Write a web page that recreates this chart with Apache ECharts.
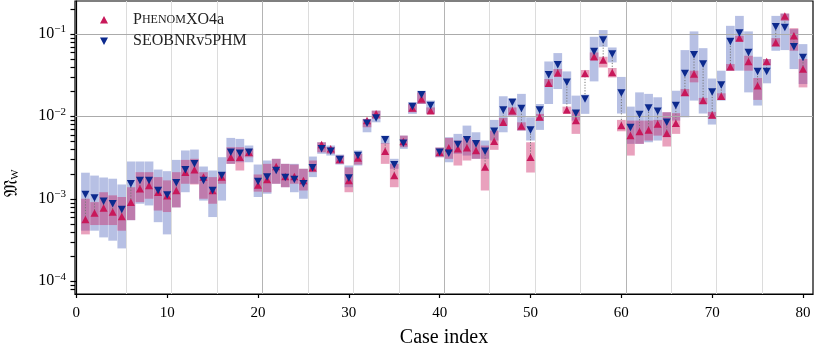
<!DOCTYPE html>
<html>
<head>
<meta charset="utf-8">
<script src="https://cdn.jsdelivr.net/npm/echarts@6/dist/echarts.min.js"></script>
<style>html,body{margin:0;padding:0;background:#fff;}#c{width:815px;height:347px;}</style>
</head>
<body>
<div id="c"></div>
<script>
const cases = [1,2,3,4,5,6,7,8,9,10,11,12,13,14,15,16,17,18,19,20,21,22,23,24,25,26,27,28,29,30,31,32,33,34,35,36,37,38,39,40,41,42,43,44,45,46,47,48,49,50,51,52,53,54,55,56,57,58,59,60,61,62,63,64,65,66,67,68,69,70,71,72,73,74,75,76,77,78,79,80];
const phenomVal = [5.6e-4,6.7e-4,7.7e-4,6.9e-4,6.1e-4,9.1e-4,1.32e-3,1.45e-3,1.2e-3,1.09e-3,1.26e-3,2.1e-3,2.24e-3,1.83e-3,1.26e-3,1.83e-3,3.19e-3,3.19e-3,3.66e-3,1.47e-3,1.71e-3,2.46e-3,1.86e-3,1.86e-3,1.67e-3,2.37e-3,4.54e-3,4.03e-3,2.99e-3,1.67e-3,3.13e-3,8.87e-3,1.07e-2,3.77e-3,1.91e-3,4.94e-3,1.26e-2,1.62e-2,1.17e-2,3.66e-3,4.14e-3,4.03e-3,4.14e-3,3.85e-3,2.42e-3,4.98e-3,8.45e-3,1.17e-2,7.6e-3,3.19e-3,9.8e-3,2.51e-2,3.35e-2,1.19e-2,8.87e-3,3.31e-2,5.27e-2,4.81e-2,3.4e-2,7.71e-3,5.83e-3,6.53e-3,6.84e-3,8.09e-3,6.22e-3,8.22e-3,1.95e-2,3.26e-2,1.55e-2,1.04e-2,1.75e-2,3.99e-2,8.87e-2,4.62e-2,2.35e-2,4.62e-2,7.85e-2,0.165,9.46e-2,3.74e-2];
const seobVal = [1.13e-3,1.02e-3,9.3e-4,8.7e-4,7.4e-4,1.52e-3,1.67e-3,1.67e-3,1.26e-3,1.11e-3,1.56e-3,2.24e-3,2.65e-3,1.67e-3,1.26e-3,1.91e-3,3.66e-3,3.56e-3,3.66e-3,1.62e-3,1.83e-3,2.2e-3,1.81e-3,1.71e-3,1.52e-3,2.37e-3,4.03e-3,3.77e-3,2.99e-3,1.78e-3,3.34e-3,8.22e-3,9.55e-3,5.18e-3,2.58e-3,4.71e-3,1.31e-2,1.83e-2,1.35e-2,3.66e-3,3.56e-3,4.54e-3,5.18e-3,4.63e-3,3.77e-3,6.58e-3,1.19e-2,1.48e-2,1.24e-2,6.84e-3,1.19e-2,3.19e-2,4.22e-2,2.58e-2,1.09e-2,1.62e-2,6.11e-2,8.4e-2,5.68e-2,1.92e-2,7.3e-3,1.05e-2,1.26e-2,1.15e-2,8.45e-3,1.35e-2,3.31e-2,5.57e-2,4.3e-2,1.97e-2,2.4e-2,8.07e-2,0.102,5.94e-2,3.5e-2,3.5e-2,0.1216,0.119,6.96e-2,5.17e-2];
const seobHi = [2.07e-3,1.91e-3,1.81e-3,1.75e-3,1.49e-3,2.83e-3,2.83e-3,2.83e-3,2.26e-3,2.16e-3,2.96e-3,3.85e-3,3.95e-3,2.46e-3,2.2e-3,3.19e-3,5.47e-3,5.32e-3,4.42e-3,2.6e-3,2.91e-3,3.05e-3,2.65e-3,2.65e-3,2.31e-3,3.25e-3,4.84e-3,4.42e-3,3.43e-3,2.53e-3,3.85e-3,9.29e-3,1.17e-2,5.83e-3,3.05e-3,5.83e-3,1.48e-2,2.04e-2,1.55e-2,4.18e-3,5.57e-3,6.12e-3,7.71e-3,6.4e-3,5.08e-3,9.04e-3,1.75e-2,1.62e-2,1.87e-2,9.72e-3,1.41e-2,4.62e-2,5.84e-2,3.5e-2,1.78e-2,1.83e-2,9.2e-2,0.111,6.83e-2,3.0e-2,1.31e-2,1.95e-2,1.87e-2,1.7e-2,1.12e-2,2.04e-2,6.35e-2,0.107,6.7e-2,2.87e-2,3.57e-2,0.125,0.165,0.107,5.27e-2,4.94e-2,0.165,0.176,0.114,7.5e-2];
const seobLo = [4.1e-4,4.1e-4,3.4e-4,3.1e-4,2.5e-4,5.5e-4,8.7e-4,8.3e-4,5.2e-4,3.7e-4,7.85e-4,1.2e-3,1.52e-3,9.5e-4,6.0e-4,9.5e-4,2.65e-3,2.77e-3,2.77e-3,1.05e-3,1.15e-3,1.52e-3,1.38e-3,1.2e-3,1.0e-3,1.83e-3,3.51e-3,3.34e-3,2.6e-3,1.38e-3,2.53e-3,6.4e-3,8.45e-3,4.63e-3,2.31e-3,4.03e-3,1.07e-2,1.41e-2,1.07e-2,3.19e-3,2.77e-3,3.51e-3,3.34e-3,3.05e-3,3.05e-3,5.08e-3,6.4e-3,1.02e-2,6.71e-3,5.08e-3,6.84e-3,1.41e-2,2.14e-2,1.41e-2,8.87e-3,1.07e-2,2.65e-2,6.96e-2,4.5e-2,1.08e-2,4.63e-3,4.63e-3,4.84e-3,5.08e-3,5.57e-3,8.87e-3,9.72e-3,1.55e-2,1.08e-2,7.94e-3,1.55e-2,3.57e-2,3.57e-2,1.95e-2,1.35e-2,2.51e-2,6.23e-2,6.35e-2,3.74e-2,2.46e-2];
const phenomHi = [1.0e-3,9.1e-4,1.2e-3,1.1e-3,1.05e-3,1.38e-3,2.1e-3,2.1e-3,1.83e-3,1.67e-3,2.1e-3,2.96e-3,3.05e-3,2.1e-3,1.83e-3,2.1e-3,4.22e-3,4.22e-3,4.03e-3,1.97e-3,2.65e-3,3.05e-3,2.65e-3,2.6e-3,2.31e-3,2.91e-3,4.84e-3,4.22e-3,3.34e-3,2.4e-3,3.51e-3,9.29e-3,1.17e-2,4.71e-3,2.65e-3,5.83e-3,1.41e-2,1.95e-2,1.28e-2,4.18e-3,5.47e-3,5.08e-3,5.57e-3,5.08e-3,4.42e-3,6.71e-3,9.55e-3,1.28e-2,8.45e-3,4.84e-3,1.07e-2,2.83e-2,3.74e-2,1.31e-2,1.19e-2,3.64e-2,5.94e-2,5.27e-2,3.85e-2,9.04e-3,8.87e-3,8.87e-3,8.87e-3,9.04e-3,1.12e-2,1.09e-2,2.14e-2,3.57e-2,1.67e-2,1.13e-2,1.9e-2,4.3e-2,9.46e-2,5.42e-2,2.91e-2,4.94e-2,8.87e-2,0.176,0.117,4.94e-2];
const phenomLo = [3.7e-4,4.8e-4,4.8e-4,4.8e-4,4.1e-4,5.5e-4,9.1e-4,1.0e-3,7.2e-4,6.9e-4,7.85e-4,1.52e-3,1.49e-3,1.0e-3,8.7e-4,1.52e-3,2.65e-3,2.2e-3,3.19e-3,1.22e-3,1.2e-3,1.52e-3,1.38e-3,1.52e-3,1.26e-3,2.1e-3,3.66e-3,3.51e-3,2.65e-3,1.2e-3,2.6e-3,7.36e-3,9.29e-3,2.65e-3,1.38e-3,4.22e-3,1.12e-2,1.41e-2,1.07e-2,3.19e-3,3.05e-3,2.53e-3,2.91e-3,3.05e-3,1.26e-3,3.92e-3,7.71e-3,1.02e-2,6.71e-3,2.08e-3,8.87e-3,2.29e-2,3.1e-2,1.09e-2,6.12e-3,3.02e-2,4.81e-2,3.91e-2,2.96e-2,6.58e-3,3.34e-3,4.63e-3,5.08e-3,5.83e-3,4.3e-3,6.12e-3,1.73e-2,2.58e-2,1.41e-2,9.4e-3,1.58e-2,3.57e-2,8.07e-2,3.57e-2,1.58e-2,4.22e-2,6.96e-2,0.1435,6.23e-2,2.24e-2];
const xTicks = [0,10,20,30,40,50,60,70,80];
const yMajor = [1e-4,1e-3,1e-2,1e-1];
const yMinor = [8e-5,9e-5,2e-4,3e-4,4e-4,5e-4,6e-4,7e-4,8e-4,9e-4,2e-3,3e-3,4e-3,5e-3,6e-3,7e-3,8e-3,9e-3,2e-2,3e-2,4e-2,5e-2,6e-2,7e-2,8e-2,9e-2,2e-1];
const vGridLight = [5.5,10.5,15.5,25.5,30.5,35.5,45.5,50.5,55.5,65.5,70.5,75.5];
const vGridDark = [20.5,40.5,60.5];

const FONT = 'Liberation Serif';
const PINK = '#c8185a', BLUE = '#0c2a8e';
const PINK_BAND = 'rgba(200,20,90,0.40)', BLUE_BAND = 'rgba(30,60,170,0.32)';
const X_MIN = -0.15, X_MAX = 81.1;

function bandData(lo, hi){ return cases.map((c,i)=>[c, lo[i], hi[i]]); }
function bandRender(fill){
  return function(params, api){
    const i = api.value(0);
    const p1 = api.coord([i-0.48, api.value(2)]);
    const p2 = api.coord([i+0.48, api.value(1)]);
    return {type:'rect', shape:{x:p1[0], y:p1[1], width:p2[0]-p1[0], height:p2[1]-p1[1]}, style:{fill:fill}};
  };
}
const downTri = 'path://M0,0 L10,0 L5,9 Z';
const upTri = 'path://M5,0 L10,9 L0,9 Z';

const chart = echarts.init(document.getElementById('c'), null, {renderer:'canvas'});
const gridMarks = [];
vGridLight.forEach(v=>gridMarks.push({xAxis:v, lineStyle:{color:'#dcdcdc', width:1, type:'solid'}}));
vGridDark.forEach(v=>gridMarks.push({xAxis:v, lineStyle:{color:'#b4b4b4', width:1, type:'solid'}}));
yMajor.forEach(v=>gridMarks.push({yAxis:v, lineStyle:{color:'#ababab', width:1, type:'solid'}}));

const legendGraphics = [
  {type:'polygon', shape:{points:[[104,16],[100,23.5],[108,23.5]]}, style:{fill:PINK}, z:100},
  {type:'polygon', shape:{points:[[100,37.5],[108,37.5],[104,45]]}, style:{fill:BLUE}, z:100},
  {type:'text', x:133, y:20, style:{text:'{a|P}{c|HENOM}{a|XO4a}', verticalAlign:'middle', rich:{a:{fontFamily:FONT, fontSize:16, fill:'#222'}, c:{fontFamily:FONT, fontSize:12, fill:'#222'}}}, z:100},
  {type:'text', x:133, y:41, style:{text:'SEOBNRv5PHM', verticalAlign:'middle', fontFamily:FONT, fontSize:16, fill:'#222'}, z:100},
  {type:'text', x:12, y:183, rotation:Math.PI/2, style:{text:'{m|\uD835\uDD10}{w|W}', align:'center', verticalAlign:'middle', rich:{m:{fontFamily:'DejaVu Serif', fontSize:19, fill:'#000'}, w:{fontFamily:FONT, fontSize:11, fill:'#000', padding:[6,0,0,0]}}}, z:100}
];

const option = {
  animation:false,
  grid:{left:75, right:2, top:1, bottom:53, containLabel:false, outerBoundsMode:'none',
        show:true, borderColor:'#000', borderWidth:1.2, backgroundColor:'transparent'},
  xAxis:{type:'value', min:X_MIN, max:X_MAX,
    axisLine:{show:true, lineStyle:{color:'#000', width:1.2}},
    axisTick:{show:true, customValues:xTicks, length:4, lineStyle:{color:'#000', width:1.2}},
    axisLabel:{show:true, customValues:xTicks, color:'#000', fontFamily:FONT, fontSize:15, margin:12},
    splitLine:{show:false},
    name:'Case index', nameLocation:'middle', nameGap:34,
    nameTextStyle:{color:'#000', fontFamily:FONT, fontSize:20}
  },
  yAxis:{type:'log', min:7e-5, max:0.25, position:'left',
     axisLine:{show:true, lineStyle:{color:'#000', width:1.2}},
     axisTick:{show:true, customValues:yMajor, length:6, lineStyle:{color:'#000', width:1.2}},
     axisLabel:{show:true, customValues:yMajor, margin:9,
       formatter:function(v){ const e = Math.round(Math.log10(v)); return '{b|10}{s|\u2212' + (-e) + '}'; },
       rich:{b:{fontFamily:FONT, fontSize:16, color:'#000'}, s:{fontFamily:FONT, fontSize:11, color:'#000', padding:[0,0,9,0]}}},
     splitLine:{show:false}
  },
  graphic:legendGraphics,
  series:[
    {type:'line', data:[], silent:true, z:1,
     markLine:{silent:true, symbol:['none','none'], label:{show:false}, animation:false, data:gridMarks}},
    {type:'custom', name:'SEOBNRv5PHM band', renderItem:bandRender(BLUE_BAND), data:bandData(seobLo, seobHi), z:2, silent:true, clip:true},
    {type:'custom', name:'PhenomXO4a band', renderItem:bandRender(PINK_BAND), data:bandData(phenomLo, phenomHi), z:3, silent:true, clip:true},
    {type:'custom', name:'link', z:4, silent:true,
     data:cases.map((c,i)=>[c, phenomVal[i], seobVal[i]]),
     renderItem:function(params, api){
       const a = api.coord([api.value(0), api.value(1)]);
       const b = api.coord([api.value(0), api.value(2)]);
       return {type:'line', shape:{x1:a[0], y1:a[1], x2:b[0], y2:b[1]}, style:{stroke:'#777', lineWidth:1, lineDash:[1.2,1.6]}};
     }},
    {type:'scatter', name:'PhenomXO4a', symbol:upTri, symbolSize:[8,7.5], itemStyle:{color:PINK, opacity:1}, z:5, silent:true,
     data:cases.map((c,i)=>[c, phenomVal[i]])},
    {type:'scatter', name:'SEOBNRv5PHM', symbol:downTri, symbolSize:[8,7.5], itemStyle:{color:BLUE, opacity:1}, z:6, silent:true,
     data:cases.map((c,i)=>[c, seobVal[i]])}
  ]
};
chart.setOption(option);

// minor ticks of the log y axis, positioned through the chart's own axis scales
const axisX = chart.convertToPixel({xAxisIndex:0}, X_MIN);
const minorTickGraphics = yMinor.map(function(v){
  const py = chart.convertToPixel({yAxisIndex:0}, v);
  const y = Math.round(py) + 0.5;
  return {type:'line', shape:{x1:axisX - 4.5, y1:y, x2:axisX, y2:y}, style:{stroke:'#000', lineWidth:1.2}, z:100, silent:true};
});
chart.setOption({graphic: legendGraphics.concat(minorTickGraphics)});
</script>
</body>
</html>
